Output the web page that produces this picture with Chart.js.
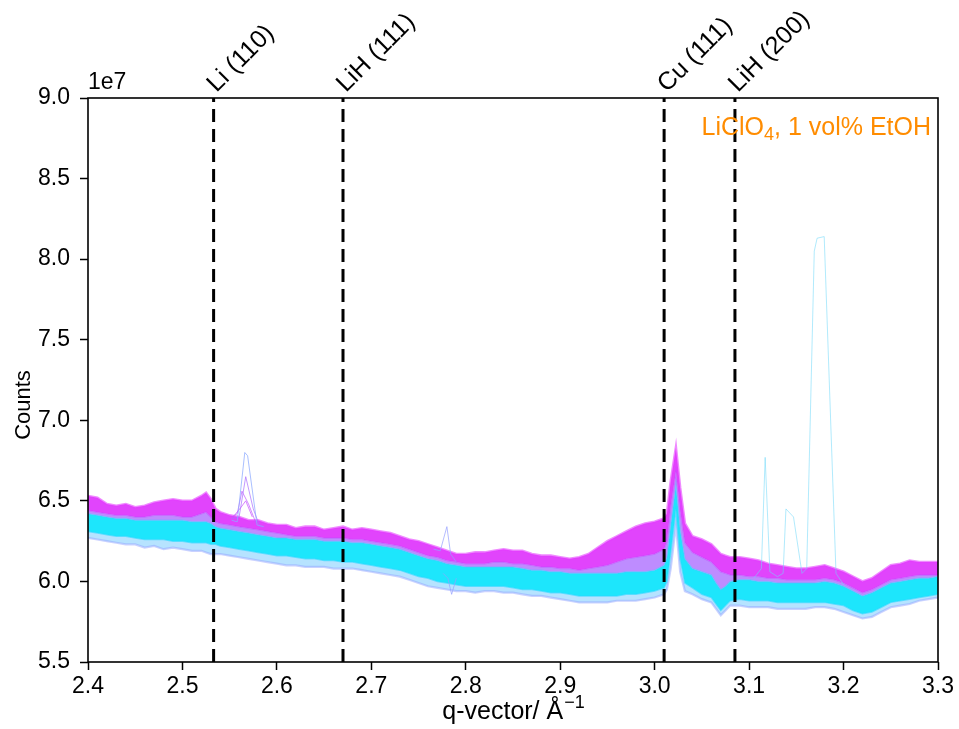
<!DOCTYPE html>
<html>
<head>
<meta charset="utf-8">
<title>LiClO4, 1 vol% EtOH – scan stack</title>
<style>
  html, body { margin: 0; padding: 0; background: #fff; }
  #wrap { width: 959px; height: 729px; }
</style>
<script src="https://cdn.jsdelivr.net/npm/chart.js@4.4.1/dist/chart.umd.min.js"></script>
</head>
<body>
<div id="wrap"><canvas id="c" width="959" height="729"></canvas></div>
<script>
// q-vector grid (1/Å); finer around the Cu (111) reflection
const q = [
  2.40, 2.41, 2.42, 2.43, 2.44, 2.45, 2.46, 2.47, 2.48, 2.49, 2.50, 2.51, 2.52,
  2.525, 2.53, 2.535,
  2.54, 2.55, 2.56, 2.57, 2.58, 2.59, 2.60, 2.61, 2.62, 2.63,
  2.64, 2.65, 2.66, 2.67, 2.68, 2.69, 2.70, 2.71, 2.72, 2.73,
  2.74, 2.75, 2.76, 2.77, 2.78, 2.79, 2.80, 2.81, 2.82, 2.83,
  2.84, 2.85, 2.86, 2.87, 2.88, 2.89, 2.90, 2.91, 2.92, 2.93,
  2.94, 2.95, 2.96, 2.97, 2.98, 2.99, 3.00, 3.01,
  3.013, 3.017, 3.0225, 3.027, 3.032,
  3.04, 3.05, 3.06,
  3.065, 3.07, 3.075,
  3.08, 3.09, 3.10, 3.11, 3.12, 3.13, 3.14, 3.15, 3.16, 3.17,
  3.18, 3.19, 3.20, 3.21, 3.22, 3.23, 3.24, 3.25, 3.26, 3.27,
  3.28, 3.29, 3.30
];

// Scan stack envelopes, counts in units of 1e7
// upper edge of the late (magenta) scans
const lateUpper = [
  6.53, 6.52, 6.48, 6.47, 6.48, 6.46, 6.47, 6.49, 6.50, 6.51, 6.50, 6.50, 6.53,
  6.55, 6.51, 6.45,
  6.43, 6.41, 6.40, 6.38, 6.38, 6.36, 6.35, 6.35, 6.33, 6.34,
  6.34, 6.32, 6.33, 6.34, 6.32, 6.33, 6.32, 6.31, 6.30, 6.28,
  6.26, 6.25, 6.23, 6.21, 6.19, 6.17, 6.17, 6.18, 6.18, 6.19,
  6.20, 6.19, 6.19, 6.17, 6.16, 6.16, 6.15, 6.14, 6.15, 6.17,
  6.21, 6.25, 6.28, 6.31, 6.34, 6.36, 6.37, 6.39,
  6.42, 6.62, 6.83, 6.58, 6.36,
  6.28, 6.26, 6.23,
  6.20, 6.17, 6.16,
  6.15, 6.15, 6.14, 6.13, 6.11, 6.10, 6.09, 6.08, 6.08, 6.09,
  6.10, 6.08, 6.06, 6.03, 6.00, 6.02, 6.06, 6.10, 6.11, 6.13,
  6.12, 6.12, 6.12
];
// lower edge of the late (magenta) scans
const lateLower = [
  6.44, 6.43, 6.42, 6.41, 6.41, 6.40, 6.40, 6.41, 6.41, 6.41, 6.40, 6.40, 6.42,
  6.43, 6.40, 6.37,
  6.36, 6.35, 6.34, 6.33, 6.32, 6.31, 6.30, 6.29, 6.28, 6.28,
  6.28, 6.27, 6.27, 6.27, 6.26, 6.26, 6.25, 6.24, 6.23, 6.22,
  6.20, 6.18, 6.16, 6.15, 6.13, 6.12, 6.11, 6.11, 6.11, 6.12,
  6.12, 6.11, 6.11, 6.10, 6.09, 6.09, 6.08, 6.08, 6.07, 6.08,
  6.09, 6.10, 6.12, 6.14, 6.15, 6.16, 6.17, 6.20,
  6.25, 6.47, 6.68, 6.44, 6.24,
  6.18, 6.15, 6.12,
  6.09, 6.06, 6.05,
  6.04, 6.04, 6.03, 6.03, 6.02, 6.02, 6.01, 6.01, 6.01, 6.01,
  6.02, 6.01, 5.99, 5.96, 5.93, 5.95, 5.98, 6.01, 6.02, 6.03,
  6.04, 6.04, 6.04
];
// upper edge of the early (cyan) scans
const earlyUpper = [
  6.42, 6.41, 6.40, 6.39, 6.39, 6.38, 6.38, 6.38, 6.38, 6.38, 6.38, 6.37, 6.37,
  6.37, 6.36, 6.34,
  6.33, 6.32, 6.31, 6.30, 6.29, 6.28, 6.27, 6.27, 6.26, 6.26,
  6.26, 6.25, 6.25, 6.25, 6.24, 6.24, 6.23, 6.22, 6.21, 6.20,
  6.18, 6.16, 6.14, 6.13, 6.11, 6.10, 6.09, 6.09, 6.09, 6.09,
  6.09, 6.09, 6.08, 6.07, 6.07, 6.06, 6.06, 6.05, 6.05, 6.05,
  6.05, 6.05, 6.05, 6.06, 6.06, 6.06, 6.07, 6.10,
  6.15, 6.35, 6.60, 6.32, 6.14,
  6.08, 6.06, 6.04,
  5.99, 5.95, 5.97,
  6.00, 6.01, 6.01, 6.00, 6.00, 5.99, 5.99, 5.99, 5.99, 5.99,
  6.00, 5.99, 5.97, 5.94, 5.91, 5.93, 5.96, 5.99, 6.00, 6.01,
  6.02, 6.02, 6.03
];
// lower edge of the early (cyan) scans
const earlyLower = [
  6.31, 6.30, 6.29, 6.28, 6.28, 6.27, 6.26, 6.26, 6.26, 6.25, 6.25, 6.24, 6.24,
  6.24, 6.23, 6.23,
  6.22, 6.21, 6.20, 6.19, 6.18, 6.17, 6.16, 6.16, 6.15, 6.14,
  6.14, 6.13, 6.13, 6.12, 6.12, 6.11, 6.10, 6.09, 6.08, 6.07,
  6.05, 6.03, 6.02, 6.00, 5.99, 5.98, 5.97, 5.97, 5.97, 5.97,
  5.97, 5.96, 5.95, 5.95, 5.94, 5.93, 5.93, 5.92, 5.91, 5.91,
  5.91, 5.91, 5.91, 5.92, 5.92, 5.93, 5.94, 5.96,
  6.00, 6.18, 6.45, 6.14, 5.99,
  5.96, 5.92, 5.90,
  5.86, 5.82, 5.85,
  5.88, 5.89, 5.88, 5.88, 5.88, 5.87, 5.87, 5.87, 5.87, 5.87,
  5.87, 5.86, 5.85, 5.82, 5.80, 5.81, 5.84, 5.87, 5.88, 5.89,
  5.90, 5.91, 5.92
];
// faint lower edge of the whole stack
const stackLower = [
  6.27, 6.26, 6.25, 6.24, 6.23, 6.23, 6.21, 6.22, 6.20, 6.21, 6.20, 6.19, 6.19,
  6.18, 6.17, 6.17,
  6.17, 6.16, 6.15, 6.14, 6.13, 6.12, 6.11, 6.10, 6.10, 6.09,
  6.09, 6.09, 6.08, 6.08, 6.08, 6.07, 6.06, 6.05, 6.04, 6.03,
  6.01, 5.99, 5.97, 5.96, 5.95, 5.94, 5.94, 5.93, 5.94, 5.94,
  5.93, 5.93, 5.92, 5.91, 5.91, 5.90, 5.89, 5.88, 5.87, 5.87,
  5.87, 5.87, 5.88, 5.88, 5.88, 5.89, 5.90, 5.92,
  5.95, 6.08, 6.35, 6.06, 5.94,
  5.92, 5.89, 5.87,
  5.83, 5.79, 5.82,
  5.85, 5.85, 5.84, 5.84, 5.84, 5.83, 5.83, 5.83, 5.83, 5.84,
  5.84, 5.83, 5.81, 5.79, 5.77, 5.78, 5.81, 5.84, 5.85, 5.86,
  5.88, 5.89, 5.90
];

// single-scan outliers (q, counts/1e7)
const spikeLiQ1 = [2.552, 2.558, 2.566, 2.569, 2.579, 2.586];
const spikeLiV1 = [6.38, 6.37, 6.80, 6.78, 6.35, 6.34];
const spikeLiQ2 = [2.552, 2.560, 2.567, 2.575, 2.582];
const spikeLiV2 = [6.39, 6.40, 6.65, 6.45, 6.34];
const spikeLiQ3 = [2.552, 2.558, 2.563, 2.570, 2.578];
const spikeLiV3 = [6.40, 6.42, 6.56, 6.48, 6.36];
const spikeLiQ4 = [2.555, 2.562, 2.567, 2.574];
const spikeLiV4 = [6.41, 6.46, 6.50, 6.40];
const spikeMidQ1 = [2.766, 2.773, 2.780, 2.784, 2.790];
const spikeMidV1 = [6.20, 6.19, 6.34, 6.17, 6.12];
const spikeMidQ2 = [2.776, 2.781, 2.785, 2.790];
const spikeMidV2 = [6.05, 6.02, 5.92, 6.02];
const spikeHiQ = [3.105, 3.113, 3.117, 3.122, 3.130, 3.136, 3.139, 3.147, 3.156, 3.161, 3.169, 3.172, 3.1795, 3.192, 3.200];
const spikeHiV = [6.02, 6.08, 6.77, 6.06, 6.03, 6.05, 6.45, 6.40, 6.05, 6.08, 8.05, 8.13, 8.14, 6.05, 5.98];

// reflection markers
const peakPos = [2.533, 2.670, 3.010, 3.085];
const peakLabels = ['Li (110)', 'LiH (111)', 'Cu (111)', 'LiH (200)'];

// axis ticks
const xTicks = [2.4, 2.5, 2.6, 2.7, 2.8, 2.9, 3.0, 3.1, 3.2, 3.3];
const yTicks = [5.5, 6.0, 6.5, 7.0, 7.5, 8.0, 8.5, 9.0];

const FONT = '"Liberation Sans", Arial, Helvetica, sans-serif';
const pts = (xs, ys) => xs.map((x, i) => ({ x: x, y: ys[i] }));

const band = (data, border, bw, fillTarget, bg, order) => ({
  data: data, borderColor: border, borderWidth: bw, backgroundColor: bg,
  fill: fillTarget, pointRadius: 0, tension: 0, order: order
});
const thin = (data, color, bw, order) => ({
  data: data, borderColor: color, borderWidth: bw, fill: false,
  pointRadius: 0, tension: 0, order: order
});

const datasets = [
  band(pts(q, lateUpper), 'rgba(228,60,255,0.6)', 2.6, false, 'transparent', 6),
  band(pts(q, lateLower), 'rgba(190,70,255,0.45)', 1.5, 0, 'rgba(222,48,252,0.9)', 7),
  band(pts(q, earlyUpper), 'rgba(90,190,255,0.5)', 1.5, 1, 'rgba(165,95,255,0.72)', 8),
  band(pts(q, earlyLower), 'rgba(40,215,255,0.6)', 1.5, 2, 'rgba(12,228,252,0.93)', 9),
  band(pts(q, stackLower), 'rgba(150,165,255,0.5)', 2.2, 3, 'rgba(110,200,255,0.5)', 10),
  thin(pts(spikeLiQ1, spikeLiV1), 'rgba(140,170,255,0.75)', 1, 3),
  thin(pts(spikeLiQ2, spikeLiV2), 'rgba(170,110,255,0.7)', 1, 3),
  thin(pts(spikeLiQ3, spikeLiV3), 'rgba(190,90,255,0.7)', 1, 3),
  thin(pts(spikeLiQ4, spikeLiV4), 'rgba(200,80,255,0.7)', 1, 3),
  thin(pts(spikeMidQ1, spikeMidV1), 'rgba(150,160,255,0.7)', 1, 3),
  thin(pts(spikeMidQ2, spikeMidV2), 'rgba(150,160,255,0.7)', 1, 3),
  thin(pts(spikeHiQ, spikeHiV), 'rgba(110,215,250,0.6)', 0.9, 2)
];
peakPos.forEach(p => {
  datasets.push({
    data: [{ x: p, y: yTicks[0] }, { x: p, y: yTicks[yTicks.length - 1] }],
    borderColor: '#000', borderWidth: 3, borderDash: [13, 7],
    pointRadius: 0, fill: false, order: 0
  });
});

const textPlugin = {
  id: 'frameAndText',
  afterDatasetsDraw(chart) {
    const { ctx, chartArea: a, scales } = chart;
    const xs = scales.x;
    ctx.save();
    // axes frame
    ctx.strokeStyle = '#000';
    ctx.lineWidth = 1.6;
    ctx.strokeRect(a.left, a.top, a.right - a.left, a.bottom - a.top);

    ctx.fillStyle = '#000';
    ctx.textBaseline = 'alphabetic';
    ctx.textAlign = 'left';
    ctx.font = '23px ' + FONT;
    // scale offset
    ctx.fillText('1e7', a.left, a.top - 9);

    // reflection labels, rotated
    ctx.font = '25px ' + FONT;
    peakPos.forEach((p, i) => {
      const px = xs.getPixelForValue(p);
      ctx.save();
      ctx.translate(px + 3, a.top - 5);
      ctx.rotate(-Math.PI / 4);
      ctx.fillText(peakLabels[i], 0, 0);
      ctx.restore();
    });

    // sample annotation with subscript
    const big = '25px ' + FONT, small = '18px ' + FONT;
    const s1 = 'LiClO', s2 = '4', s3 = ', 1 vol% EtOH';
    ctx.font = big; const w1 = ctx.measureText(s1).width, w3 = ctx.measureText(s3).width;
    ctx.font = small; const w2 = ctx.measureText(s2).width;
    let tx = a.right - 7 - (w1 + w2 + w3);
    const ty = a.top + 37;
    ctx.fillStyle = '#ff8c00';
    ctx.font = big; ctx.fillText(s1, tx, ty); tx += w1;
    ctx.font = small; ctx.fillText(s2, tx, ty + 5); tx += w2;
    ctx.font = big; ctx.fillText(s3, tx, ty);

    // axis titles
    ctx.fillStyle = '#000';
    ctx.font = big;
    const t1 = 'q-vector/ Å', t2 = '\u22121';
    const tw1 = ctx.measureText(t1).width;
    ctx.font = small; const tw2 = ctx.measureText(t2).width;
    const ax = (a.left + a.right) / 2 - (tw1 + tw2) / 2;
    const ay = 719;
    ctx.font = big; ctx.fillText(t1, ax, ay);
    ctx.font = small; ctx.fillText(t2, ax + tw1 + 1, ay - 11);

    ctx.font = '22px ' + FONT;
    ctx.save();
    ctx.translate(30, (a.top + a.bottom) / 2 + 25);
    ctx.rotate(-Math.PI / 2);
    ctx.textAlign = 'center';
    ctx.fillText('Counts', 0, 0);
    ctx.restore();
    ctx.restore();
  }
};

new Chart(document.getElementById('c'), {
  type: 'line',
  data: { datasets: datasets },
  options: {
    responsive: false,
    animation: false,
    devicePixelRatio: 1,
    layout: { padding: { top: 98, right: 21, bottom: 0, left: 0 } },
    plugins: { legend: { display: false }, tooltip: { enabled: false } },
    scales: {
      x: {
        type: 'linear', min: xTicks[0], max: xTicks[xTicks.length - 1],
        afterBuildTicks: s => { s.ticks = xTicks.map(v => ({ value: v })); },
        afterFit: s => { s.height = 67; },
        ticks: {
          callback: v => Number(v).toFixed(1), color: '#000', padding: 3,
          font: { family: FONT, size: 23 }, maxRotation: 0, autoSkip: false
        },
        grid: { drawOnChartArea: false, drawTicks: true, tickLength: 8, tickWidth: 1.5, tickColor: '#000' },
        border: { display: false }
      },
      y: {
        type: 'linear', min: yTicks[0], max: yTicks[yTicks.length - 1],
        afterBuildTicks: s => { s.ticks = yTicks.map(v => ({ value: v })); },
        afterFit: s => { s.width = 88; },
        ticks: {
          callback: v => Number(v).toFixed(1), color: '#000', padding: 10,
          font: { family: FONT, size: 23 }
        },
        grid: { drawOnChartArea: false, drawTicks: true, tickLength: 8, tickWidth: 1.5, tickColor: '#000' },
        border: { display: false }
      }
    }
  },
  plugins: [textPlugin]
});
</script>
</body>
</html>
